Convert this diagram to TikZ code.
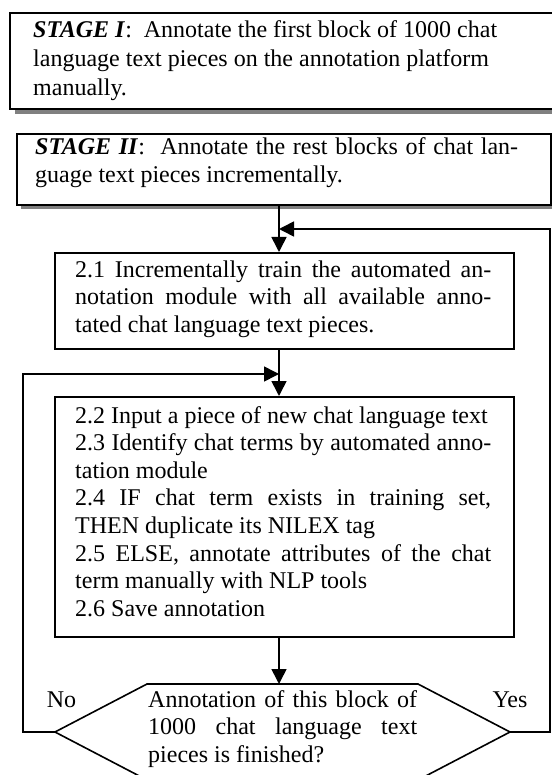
\documentclass[tikz,border=0pt]{standalone}
\usepackage{fontspec}
\setmainfont{Liberation Serif}
\usetikzlibrary{arrows.meta}
\definecolor{shadowgray}{HTML}{808080}
\newcommand\myjust[1]{\makebox[\linewidth][s]{#1}\par}
\newcommand\myleft[1]{\makebox[\linewidth][l]{#1}\par}
\newcommand\stagelbl[1]{\textbf{\textit{#1}}}
\begin{document}
\begin{tikzpicture}[x=1pt,y=-1pt,
  boxst/.style={draw=black, line width=1.6pt, fill=white, inner sep=0pt, anchor=north west},
  shadowst/.style={fill=shadowgray, draw=none},
  arr/.style={draw=black, line width=1.6pt, -{Triangle[length=15pt,width=15pt]}},
  loopst/.style={draw=black, line width=1.6pt},
  txt/.style={anchor=base west, inner sep=0pt, font=\fontsize{24}{27.6}\selectfont},
  lbl/.style={anchor=base, inner sep=0pt, font=\fontsize{24}{27.6}\selectfont},
]
\useasboundingbox (0,0) rectangle (551,775);
\fill[white] (0,0) rectangle (551,775);

% shadows
\fill[shadowst] (15,18) rectangle (575,114);
\fill[shadowst] (21,138) rectangle (555,209.5);

% boxes
\node[boxst, minimum width=560pt, minimum height=95.5pt] (s1) at (9,12.5) {};
\node[boxst, minimum width=534pt, minimum height=71pt] (s2) at (16,133) {};
\node[boxst, minimum width=459pt, minimum height=96pt] (b21) at (54,252) {};
\node[boxst, minimum width=459pt, minimum height=240pt] (b22) at (54,396) {};

% hexagon decision
\coordinate (hl) at (55,732);
\coordinate (ht) at (279,684);
\coordinate (hr) at (510,732);
\draw[loopst, fill=white] (hl) -- (147,684) -- (418,684) -- (hr) -- (418,780) -- (147,780) -- cycle;

% texts
\node[txt] (t1) at (33,38) {\parbox[t]{520pt}{\fontsize{24}{29}\selectfont\lineskiplimit=-20pt
  \myleft{\stagelbl{STAGE I}:\ \ Annotate the first block of 1000 chat}
  \myleft{language text pieces on the annotation platform}
  \myleft{manually.}}};
\node[txt] (t2) at (35,155) {\parbox[t]{483pt}{\lineskiplimit=-20pt
  \myjust{\stagelbl{STAGE II}:\ \ Annotate the rest blocks of chat lan-}
  \myleft{guage text pieces incrementally.}}};
\node[txt] (t21) at (75,277) {\parbox[t]{416pt}{\lineskiplimit=-20pt
  \myjust{2.1 Incrementally train the automated an-}
  \myjust{notation module with all available anno-}
  \myleft{tated chat language text pieces.}}};
\node[txt] (t22) at (75,423) {\parbox[t]{416pt}{\lineskiplimit=-20pt
  \myleft{2.2 Input a piece of new chat language text}
  \myjust{2.3 Identify chat terms by automated anno-}
  \myleft{tation module}
  \myjust{2.4 IF chat term exists in training set,}
  \myleft{THEN duplicate its NILEX tag}
  \myjust{2.5 ELSE, annotate attributes of the chat}
  \myleft{term manually with NLP tools}
  \myleft{2.6 Save annotation}}};
\node[txt] (th) at (148,707) {\parbox[t]{269pt}{\lineskiplimit=-20pt
  \myjust{Annotation of this block of}
  \myjust{1000 chat language text}
  \myleft{pieces is finished?}}};
\node[lbl] (no) at (61.5,707) {No};
\node[lbl] (yes) at (510,707) {Yes};

% connectors
\coordinate (ax) at (279,0);
\coordinate (rl) at (550,229);
\coordinate (ll) at (23,374);
\draw[arr] (s2.south -| ax) -- (b21.north -| ax);
\draw[arr] (hr) -| (rl) -- (rl -| ax);
\draw[arr] (b21.south -| ax) -- (b22.north -| ax);
\draw[arr] (hl) -| (ll) -- (ll -| ax);
\draw[arr] (b22.south -| ax) -- (ht);
\end{tikzpicture}
\end{document}
